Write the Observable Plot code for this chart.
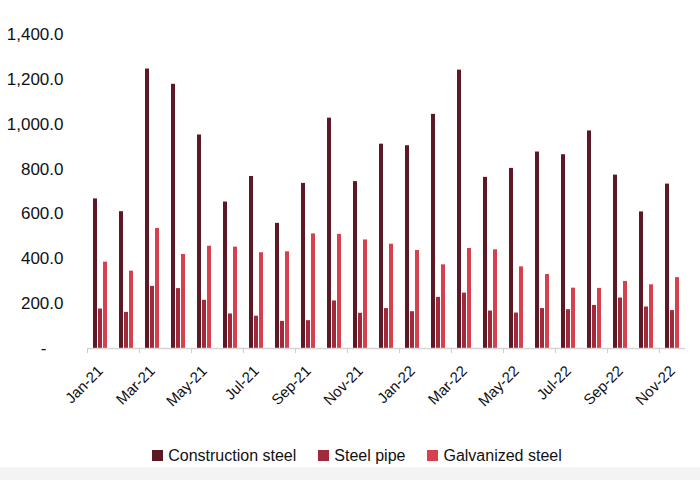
<!DOCTYPE html>
<html>
<head>
<meta charset="utf-8">
<script src="https://cdn.jsdelivr.net/npm/d3@7"></script>
<script src="https://cdn.jsdelivr.net/npm/@observablehq/plot@0.6"></script>
<style>
  html, body { margin: 0; padding: 0; background: #fff; }
  #wrap { position: relative; width: 700px; height: 480px; overflow: hidden;
          font-family: "Liberation Sans", Arial, sans-serif; }
  #chart { position: absolute; left: 0; top: 0; }
  #legend { position: absolute; left: 0; right: 0; top: 446px; padding-left: 14px; display: flex; justify-content: center;
            align-items: center; font-size: 16px; line-height: 19px; color: #111; }
  #legend .item { display: flex; align-items: center; margin-right: 22px; }
  #legend .item:last-child { margin-right: 0; }
  #legend .sw { width: 11px; height: 11px; margin-right: 5px; }
  #strip { position: absolute; left: 0; right: 0; top: 467px; height: 13px; background: #f3f3f3; }
</style>
</head>
<body>
<div id="wrap">
  <div id="chart"></div>
  <div id="legend"></div>
  <div id="strip"></div>
</div>
<script>
// Monthly figures, Jan 2021 – Nov 2022
const months = ["Jan-21","Feb-21","Mar-21","Apr-21","May-21","Jun-21","Jul-21","Aug-21","Sep-21","Oct-21","Nov-21","Dec-21",
                "Jan-22","Feb-22","Mar-22","Apr-22","May-22","Jun-22","Jul-22","Aug-22","Sep-22","Oct-22","Nov-22"];
const seriesNames = ["Construction steel", "Steel pipe", "Galvanized steel"];
const construction = [667, 610, 1246, 1178, 952, 653, 767, 558, 736, 1027, 744, 911, 904, 1044, 1241, 763, 803, 876, 864, 970, 773, 609, 733];
const steelPipe    = [176, 161, 277, 267, 215, 154, 144, 121, 124, 212, 157, 178, 164, 228, 247, 167, 158, 178, 173, 192, 225, 185, 169];
const galvanized   = [385, 345, 535, 419, 456, 452, 427, 431, 511, 509, 484, 465, 437, 373, 446, 440, 364, 330, 269, 268, 299, 284, 316];
const colors = ["#5c1824", "#a02a39", "#d7404f"];
const yTicks = [0, 200, 400, 600, 800, 1000, 1200, 1400];
const labelMonths = months.filter((_, i) => i % 2 === 0);

const seriesValues = [construction, steelPipe, galvanized];
const table = months.flatMap((m, i) =>
  seriesNames.map((s, k) => ({month: m, series: s, value: seriesValues[k][i]})));

const fmt = v => v === 0 ? "-\u2002\u2002" : d3.format(",.1f")(v);

const chart = Plot.plot({
  width: 700,
  height: 440,
  marginLeft: 87,
  marginRight: 15,
  marginTop: 34,
  marginBottom: 92,
  style: {fontFamily: "'Liberation Sans', Arial, sans-serif", color: "#111", background: "transparent"},
  fx: {domain: months, padding: 0, label: null},
  x: {domain: seriesNames, paddingInner: 0.16, paddingOuter: 0.86, axis: null},
  y: {domain: [0, 1400], label: null},
  color: {domain: seriesNames, range: colors},
  marks: [
    Plot.axisY({ticks: yTicks, tickSize: 0, tickPadding: 24, tickFormat: fmt, fontSize: 17, label: null}),
    Plot.barY(table, {fx: "month", x: "series", y: "value", fill: "series"}),
    Plot.ruleY([0], {stroke: "#d4d4d4", strokeWidth: 1.5}),
    // boundary tick marks between every second month
    Plot.axisFx({anchor: "bottom", ticks: labelMonths, tickSize: 5, tickFormat: () => "", dx: -13, stroke: "#cfcfcf", label: null}),
    Plot.axisFx({anchor: "bottom", ticks: labelMonths, tickSize: 0, tickPadding: 20, tickRotate: -45, fontSize: 15, label: null})
  ]
});
document.getElementById("chart").appendChild(chart);

const legend = document.getElementById("legend");
seriesNames.forEach((s, k) => {
  const item = document.createElement("div");
  item.className = "item";
  const sw = document.createElement("div");
  sw.className = "sw";
  sw.style.background = colors[k];
  const t = document.createElement("span");
  t.textContent = s;
  item.appendChild(sw);
  item.appendChild(t);
  legend.appendChild(item);
});
</script>
</body>
</html>
